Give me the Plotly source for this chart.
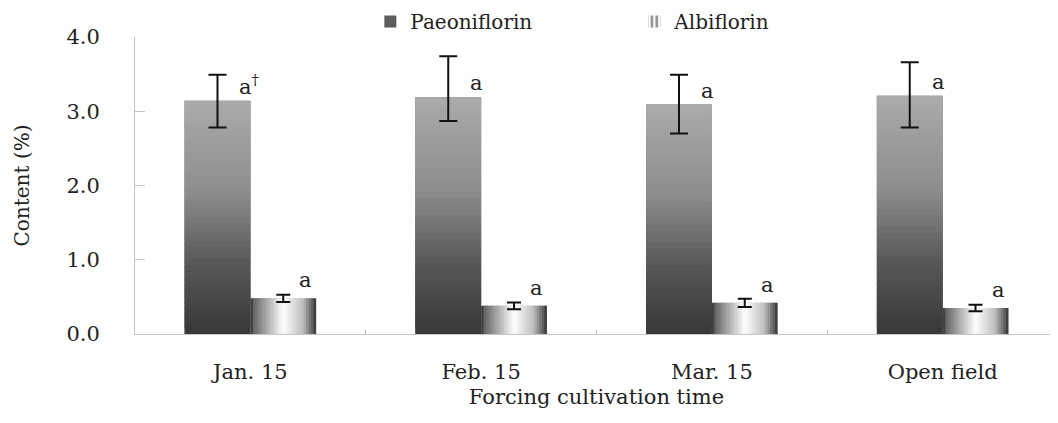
import plotly.graph_objects as go
from plotly.colors import sample_colorscale

categories = ["Jan. 15", "Feb. 15", "Mar. 15", "Open field"]
paeoniflorin = [3.14, 3.19, 3.09, 3.21]
paeo_err_plus = [0.35, 0.55, 0.40, 0.45]
paeo_err_minus = [0.36, 0.32, 0.39, 0.43]
albiflorin = [0.48, 0.38, 0.42, 0.35]
albi_err = [0.05, 0.045, 0.055, 0.045]
paeo_letters = ["a<sup>†</sup>", "a", "a", "a"]
albi_letters = ["a", "a", "a", "a"]

FONT = "DejaVu Serif"
TXT = "#222222"
BW = 0.285  # bar width in category units

paeo_scale = [[0.0, "#383838"], [0.3, "#575757"], [0.6, "#8c8c8c"], [1.0, "#ababab"]]
albi_scale = [[0.0, "#2e2e2e"], [0.06, "#6a6a6a"], [0.5, "#ffffff"],
              [0.8, "#bdbdbd"], [0.95, "#5a5a5a"], [1.0, "#2e2e2e"]]

fig = go.Figure()

# legend / base bars
fig.add_trace(go.Bar(x=categories, y=paeoniflorin, name="Paeoniflorin",
                     offset=-BW, width=BW, marker=dict(color="#5c5c5c", line=dict(width=0))))
fig.add_trace(go.Bar(x=categories, y=albiflorin, name="Albiflorin",
                     offset=0, width=BW,
                     marker=dict(color="white", line=dict(width=0),
                                 pattern=dict(shape="|", fgcolor="#222222", bgcolor="#ffffff",
                                              size=6, solidity=0.55))))

# vertical gradient for Paeoniflorin (stacked slices)
N = 40
pcols = sample_colorscale(paeo_scale, [(k + 0.5) / N for k in range(N)])
for k in range(N):
    fig.add_trace(go.Bar(x=categories,
                         y=[v / N * (1.8 if k < N - 1 else 1.0) for v in paeoniflorin],
                         base=[v * k / N for v in paeoniflorin],
                         offset=-BW, width=BW, showlegend=False, hoverinfo="skip",
                         marker=dict(color=pcols[k], line=dict(width=0))))

# horizontal gradient for Albiflorin (side-by-side slices)
M = 26
acols = sample_colorscale(albi_scale, [(k + 0.5) / M for k in range(M)])
for k in range(M):
    w = BW / M
    fig.add_trace(go.Bar(x=categories, y=albiflorin, offset=k * w,
                         width=w * (1.8 if k < M - 1 else 1.0),
                         showlegend=False, hoverinfo="skip",
                         marker=dict(color=acols[k], line=dict(width=0))))

# error bars on top
fig.add_trace(go.Bar(x=categories, y=paeoniflorin, offset=-BW, width=BW, showlegend=False,
                     hoverinfo="skip", marker=dict(color="rgba(0,0,0,0)", line=dict(width=0)),
                     error_y=dict(type="data", symmetric=False, array=paeo_err_plus,
                                  arrayminus=paeo_err_minus, color="#111111",
                                  thickness=2, width=9)))
fig.add_trace(go.Bar(x=categories, y=albiflorin, offset=0, width=BW, showlegend=False,
                     hoverinfo="skip", marker=dict(color="rgba(0,0,0,0)", line=dict(width=0)),
                     error_y=dict(type="data", array=albi_err, color="#111111",
                                  thickness=2, width=7)))

annotations = []
for i, (v, t) in enumerate(zip(paeoniflorin, paeo_letters)):
    annotations.append(dict(x=i, y=v, xref="x", yref="y", text=t, showarrow=False,
                            xanchor="left", yanchor="bottom", xshift=-13, yshift=0,
                            font=dict(family=FONT, size=21, color=TXT)))
for i, (v, t) in enumerate(zip(albiflorin, albi_letters)):
    annotations.append(dict(x=i + 0.24, y=v, xref="x", yref="y", text=t, showarrow=False,
                            xanchor="center", yanchor="bottom", yshift=4,
                            font=dict(family=FONT, size=21, color=TXT)))

fig.update_layout(
    width=1058, height=423,
    margin=dict(l=127, r=8, t=29, b=97, autoexpand=False),
    paper_bgcolor="white", plot_bgcolor="white",
    barmode="overlay",
    font=dict(family=FONT, color=TXT),
    showlegend=True,
    legend=dict(orientation="h", x=0.255, y=1.052, xanchor="left", yanchor="middle",
                font=dict(family=FONT, size=20, color=TXT),
                entrywidth=219, entrywidthmode="pixels", borderwidth=0,
                bgcolor="rgba(0,0,0,0)", traceorder="normal"),
    annotations=annotations,
    xaxis=dict(type="category", range=[-0.5, 3.5], showline=True, linecolor="#c4c4c4",
               linewidth=1, ticks="inside", tickson="boundaries", ticklen=4,
               tickcolor="#c4c4c4", showgrid=False, zeroline=False,
               ticklabelstandoff=19,
               tickfont=dict(family=FONT, size=21, color=TXT),
               title=dict(text="Forcing cultivation time", standoff=6,
                          font=dict(family=FONT, size=21, color=TXT))),
    yaxis=dict(range=[0, 4], dtick=1, tickformat=".1f", showline=True, linecolor="#c4c4c4",
               linewidth=1, ticks="inside", ticklen=10, tickcolor="#c4c4c4",
               showgrid=False, zeroline=False, ticklabelstandoff=30,
               tickfont=dict(family=FONT, size=21, color=TXT),
               title=dict(text="Content (%)", standoff=31,
                          font=dict(family=FONT, size=20, color=TXT))),
)

fig.write_html("out.html")
